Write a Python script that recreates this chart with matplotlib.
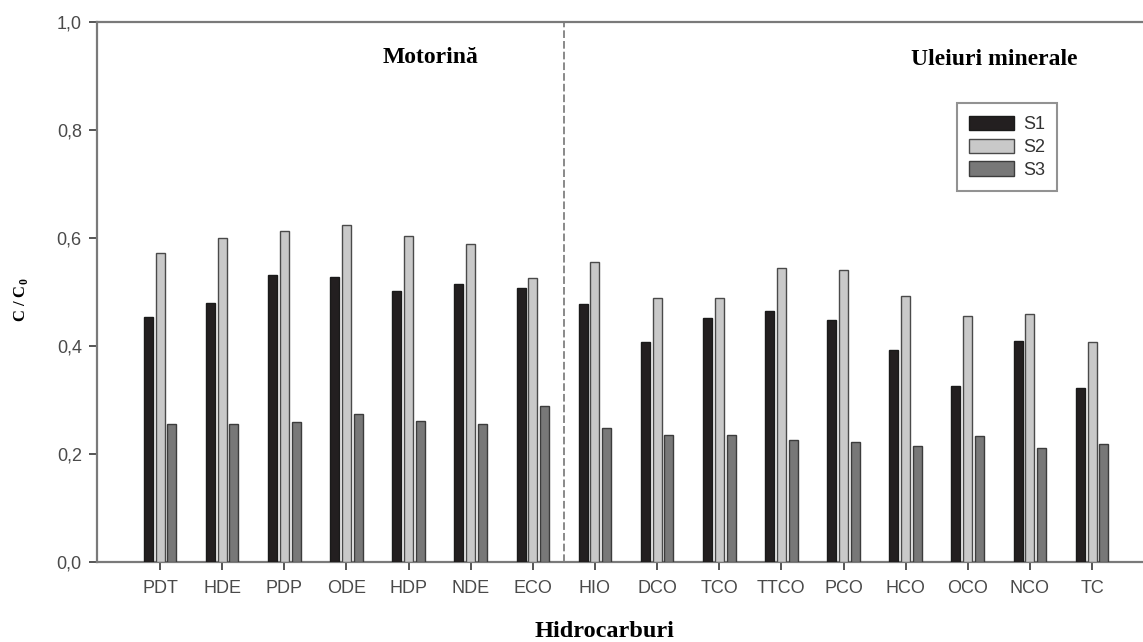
import matplotlib
matplotlib.use("Agg")
import matplotlib.pyplot as plt
import numpy as np

# Hydrocarbon fractions (diesel: first 7, mineral oils: remaining 9)
categories = ["PDT", "HDE", "PDP", "ODE", "HDP", "NDE", "ECO",
              "HIO", "DCO", "TCO", "TTCO", "PCO", "HCO", "OCO", "NCO", "TC"]

s1 = [0.453, 0.479, 0.531, 0.527, 0.501, 0.515, 0.508,
      0.478, 0.408, 0.452, 0.464, 0.449, 0.393, 0.326, 0.409, 0.322]
s2 = [0.573, 0.600, 0.613, 0.625, 0.604, 0.589, 0.526,
      0.555, 0.488, 0.488, 0.544, 0.540, 0.493, 0.456, 0.460, 0.408]
s3 = [0.256, 0.256, 0.260, 0.275, 0.262, 0.256, 0.288,
      0.249, 0.235, 0.236, 0.226, 0.222, 0.215, 0.233, 0.211, 0.218]

series_names = ["S1", "S2", "S3"]
yticks = [0.0, 0.2, 0.4, 0.6, 0.8, 1.0]
ytick_labels = ["0,0", "0,2", "0,4", "0,6", "0,8", "1,0"]
group_labels = ["Motorină", "Uleiuri minerale"]
split_at = 7  # number of diesel fractions

fig = plt.figure(figsize=(11.43, 6.42), dpi=100)
ax = fig.add_axes([0.0849, 0.1246, 0.9151, 0.8411])

x = np.arange(len(categories))
width = 0.145
offsets = [-0.19, 0.0, 0.19]
fills = ["#231f20", "#c9c9c9", "#787878"]
edges = ["#1a1a1a", "#4a4a4a", "#3c3c3c"]

handles = []
for vals, off, fc, ec, name in zip([s1, s2, s3], offsets, fills, edges, series_names):
    h = ax.bar(x + off, vals, width=width, color=fc, edgecolor=ec,
               linewidth=1.0, label=name, zorder=3)
    handles.append(h)

ax.set_xlim(-1.014, 15.82)
ax.set_ylim(0, 1.0)

ax.set_yticks(yticks)
ax.set_yticklabels(ytick_labels)
ax.set_xticks(x)
ax.set_xticklabels(categories)

spine_col = "#7a7a7a"
for side in ["left", "bottom", "top"]:
    ax.spines[side].set_color(spine_col)
    ax.spines[side].set_linewidth(1.6)
ax.spines["right"].set_visible(False)

ax.tick_params(axis="both", direction="out", length=6, width=1.4,
               color="#555555", labelcolor="#4a4a4a", labelsize=13,
               labelfontfamily="Liberation Sans")
ax.tick_params(axis="y", pad=5)
ax.tick_params(axis="x", pad=7)

# separator between the two hydrocarbon groups
ax.axvline(split_at - 0.5, ymin=0, ymax=1, color="#6a6a6a", linewidth=1.1,
           linestyle=(0, (5, 2)), zorder=2)

ax.text(4.36, 0.935, group_labels[0], ha="center", va="center",
        family="Liberation Serif", fontweight="bold", fontsize=17)
ax.text(13.42, 0.931, group_labels[1], ha="center", va="center",
        family="Liberation Serif", fontweight="bold", fontsize=17)

fig.text(0.529, 0.0156, "Hidrocarburi", ha="center", va="center",
         family="Liberation Serif", fontweight="bold", fontsize=17.5)
fig.text(0.018, 0.533, "C / C$_\\mathregular{0}$", ha="center", va="center",
         rotation=90, family="Liberation Serif", fontweight="bold", fontsize=12)

leg = ax.legend(handles=handles, loc="upper left",
                bbox_to_anchor=(0.822, 0.85), frameon=True, fancybox=False,
                handlelength=2.45, handleheight=0.85, handletextpad=0.5,
                borderpad=0.7, labelspacing=0.3, borderaxespad=0,
                prop={"family": "Liberation Sans", "size": 13})
leg.get_frame().set_edgecolor("#777777")
leg.get_frame().set_linewidth(1.5)
for t in leg.get_texts():
    t.set_color("#333333")

fig.savefig("out.png", dpi=100)
